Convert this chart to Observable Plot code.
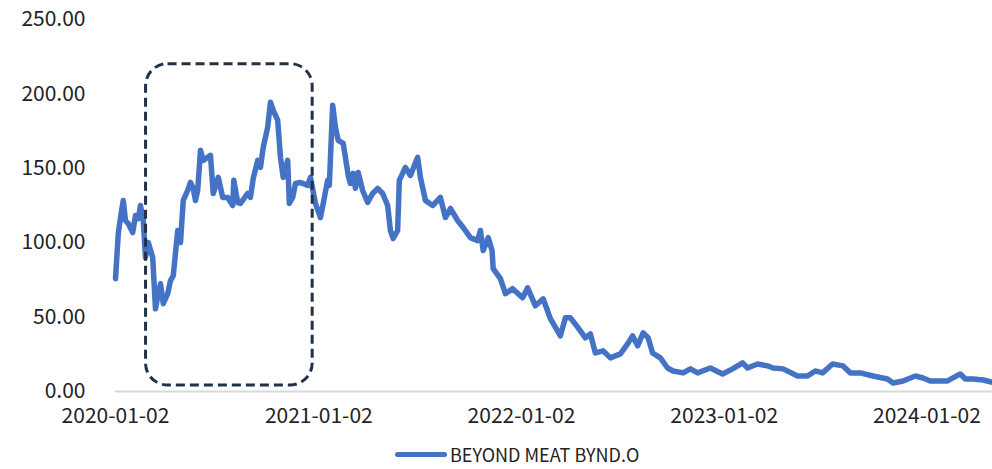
<!DOCTYPE html>
<html>
<head>
<meta charset="utf-8">
<script src="https://cdn.jsdelivr.net/npm/d3@7"></script>
<script src="https://cdn.jsdelivr.net/npm/@observablehq/plot@0.6"></script>
<style>
  html, body { margin: 0; padding: 0; background: #fff; }
  #wrap { position: relative; width: 992px; height: 469px; }
  #legend { position: absolute; left: 395px; top: 444px; height: 20px; line-height: 20px; display: flex; align-items: center;
            font-family: 'Noto Sans CJK SC', sans-serif; font-size: 18px; color: #222; }
  #legend .sw { width: 52px; height: 5px; background: #4472C4; border-radius: 3px; margin-right: 3px; }
</style>
</head>
<body>
<div id="wrap"><div id="chart"></div><div id="legend"><span class="sw"></span><span id="legtext"></span></div></div>
<script>
const seriesName = "BEYOND MEAT BYND.O";
const dates = [
"2020-01-02","2020-01-07","2020-01-11","2020-01-16","2020-01-20","2020-01-25","2020-02-02","2020-02-07","2020-02-12","2020-02-16",
"2020-02-21","2020-02-25","2020-03-01","2020-03-09","2020-03-14","2020-03-19","2020-03-23","2020-03-28","2020-04-05","2020-04-10",
"2020-04-15","2020-04-23","2020-04-28","2020-05-03","2020-05-11","2020-05-16","2020-05-21","2020-05-25","2020-05-29","2020-06-03",
"2020-06-08","2020-06-16","2020-06-21","2020-06-26","2020-07-05","2020-07-13","2020-07-22","2020-07-31","2020-08-02","2020-08-09",
"2020-08-14","2020-08-27","2020-09-01","2020-09-06","2020-09-14","2020-09-19","2020-09-24","2020-10-02","2020-10-07","2020-10-12",
"2020-10-20","2020-10-25","2020-10-30","2020-11-07","2020-11-10","2020-11-16","2020-11-21","2020-11-30","2020-12-13","2020-12-18",
"2020-12-27","2021-01-05","2021-01-10","2021-01-18","2021-01-21","2021-01-27","2021-02-01","2021-02-06","2021-02-15","2021-02-24",
"2021-02-28","2021-03-05","2021-03-09","2021-03-14","2021-03-22","2021-03-31","2021-04-09","2021-04-18","2021-04-27","2021-05-06",
"2021-05-11","2021-05-16","2021-05-24","2021-05-27","2021-06-07","2021-06-16","2021-06-29","2021-07-04","2021-07-13","2021-07-26",
"2021-08-09","2021-08-18","2021-08-27","2021-09-09","2021-09-19","2021-10-02","2021-10-15","2021-10-20","2021-10-25","2021-11-03",
"2021-11-10","2021-11-12","2021-11-25","2021-12-04","2021-12-17","2022-01-04","2022-01-13","2022-01-27","2022-02-10","2022-02-23",
"2022-03-13","2022-03-22","2022-03-31","2022-04-14","2022-04-27","2022-05-06","2022-05-15","2022-05-29","2022-06-11","2022-06-29",
"2022-07-12","2022-07-21","2022-07-30","2022-08-09","2022-08-18","2022-08-26","2022-09-09","2022-09-22","2022-10-02","2022-10-20",
"2022-11-02","2022-11-15","2022-12-08","2022-12-30","2023-01-17","2023-02-04","2023-02-13","2023-03-03","2023-03-21","2023-03-31",
"2023-04-18","2023-05-14","2023-06-01","2023-06-15","2023-06-28","2023-07-16","2023-08-04","2023-08-17","2023-09-04","2023-09-27",
"2023-10-23","2023-11-02","2023-11-20","2023-12-12","2023-12-26","2024-01-08","2024-02-08","2024-03-02","2024-03-11","2024-03-25",
"2024-04-12","2024-04-29"
];
const prices = [
75.8,106.1,116.9,128.4,114.9,112.9,106.8,118.3,116.2,125.0,
114.9,90.0,100.1,90.0,55.6,65.7,72.4,59.0,65.7,74.5,
77.8,108.2,100.1,128.4,135.1,140.5,136.5,128.4,135.1,162.1,
155.3,157.4,158.7,133.1,143.9,130.4,130.4,125.0,141.9,127.0,
126.4,133.1,130.4,143.2,155.3,150.6,164.1,177.6,194.4,189.0,
182.3,157.4,143.9,155.3,126.4,130.4,139.8,140.5,138.5,143.9,
126.4,116.9,126.4,141.9,138.5,192.4,177.6,168.8,166.8,145.2,
139.8,146.6,136.5,147.2,135.1,127.0,133.1,136.5,133.1,125.0,
108.2,102.8,108.2,141.9,150.6,145.2,157.4,143.9,128.4,125.0,
130.4,116.9,123.0,114.9,110.2,103.4,101.4,108.2,94.7,103.4,
94.7,82.6,75.8,65.7,69.1,63.0,69.7,57.6,62.3,48.9,
37.4,49.5,49.5,42.8,36.1,38.7,25.9,27.3,22.6,25.3,
32.0,37.4,30.7,39.4,36.1,25.9,22.6,15.8,13.8,12.5,
15.2,12.5,15.8,11.8,15.2,19.2,15.8,18.5,17.2,15.8,
15.2,10.4,10.4,13.8,12.5,18.5,17.2,12.5,12.5,10.4,
8.4,5.7,7.1,10.4,9.1,7.1,7.1,11.8,8.4,8.4,
7.7,6.2
];
const yTicks = [0, 50, 100, 150, 200, 250];
const xTickLabels = ["2020-01-02","2021-01-02","2022-01-02","2023-01-02","2024-01-02"];
const xDomain = ["2020-01-02", "2024-04-29"];
const highlight = { start: "2020-02-26", end: "2020-12-22", low: 4, high: 220 };

const parse = d3.utcParse("%Y-%m-%d");
const data = dates.map((d, i) => ({ date: parse(d), value: prices[i] }));
const box = [{ x1: parse(highlight.start), x2: parse(highlight.end), y1: highlight.low, y2: highlight.high }];

const chart = Plot.plot({
  width: 992,
  height: 443,
  marginTop: 19,
  marginBottom: 52,
  marginLeft: 115,
  marginRight: 0,
  style: { fontFamily: "'Noto Sans CJK SC', sans-serif", fontSize: "21px", color: "#222", background: "#fff", overflow: "visible" },
  x: { type: "utc", domain: xDomain.map(parse), ticks: xTickLabels.map(parse), tickFormat: d3.utcFormat("%Y-%m-%d"), tickSize: 0, tickPadding: 17, label: null },
  y: { domain: [0, 250], ticks: yTicks, tickFormat: d => d.toFixed(2), tickSize: 0, tickPadding: 30, label: null },
  marks: [
    Plot.ruleY([0], { stroke: "#d9d9d9", strokeWidth: 2 }),
    Plot.line(data, { x: "date", y: "value", stroke: "#4472C4", strokeWidth: 5.5, strokeLinejoin: "round", strokeLinecap: "round" }),
    Plot.rect(box, { x1: "x1", x2: "x2", y1: "y1", y2: "y2", fill: "none", stroke: "#223246", strokeWidth: 3, strokeDasharray: "9 5", rx: 22 })
  ]
});
document.getElementById("chart").appendChild(chart);
document.getElementById("legtext").textContent = seriesName;
</script>
</body>
</html>
